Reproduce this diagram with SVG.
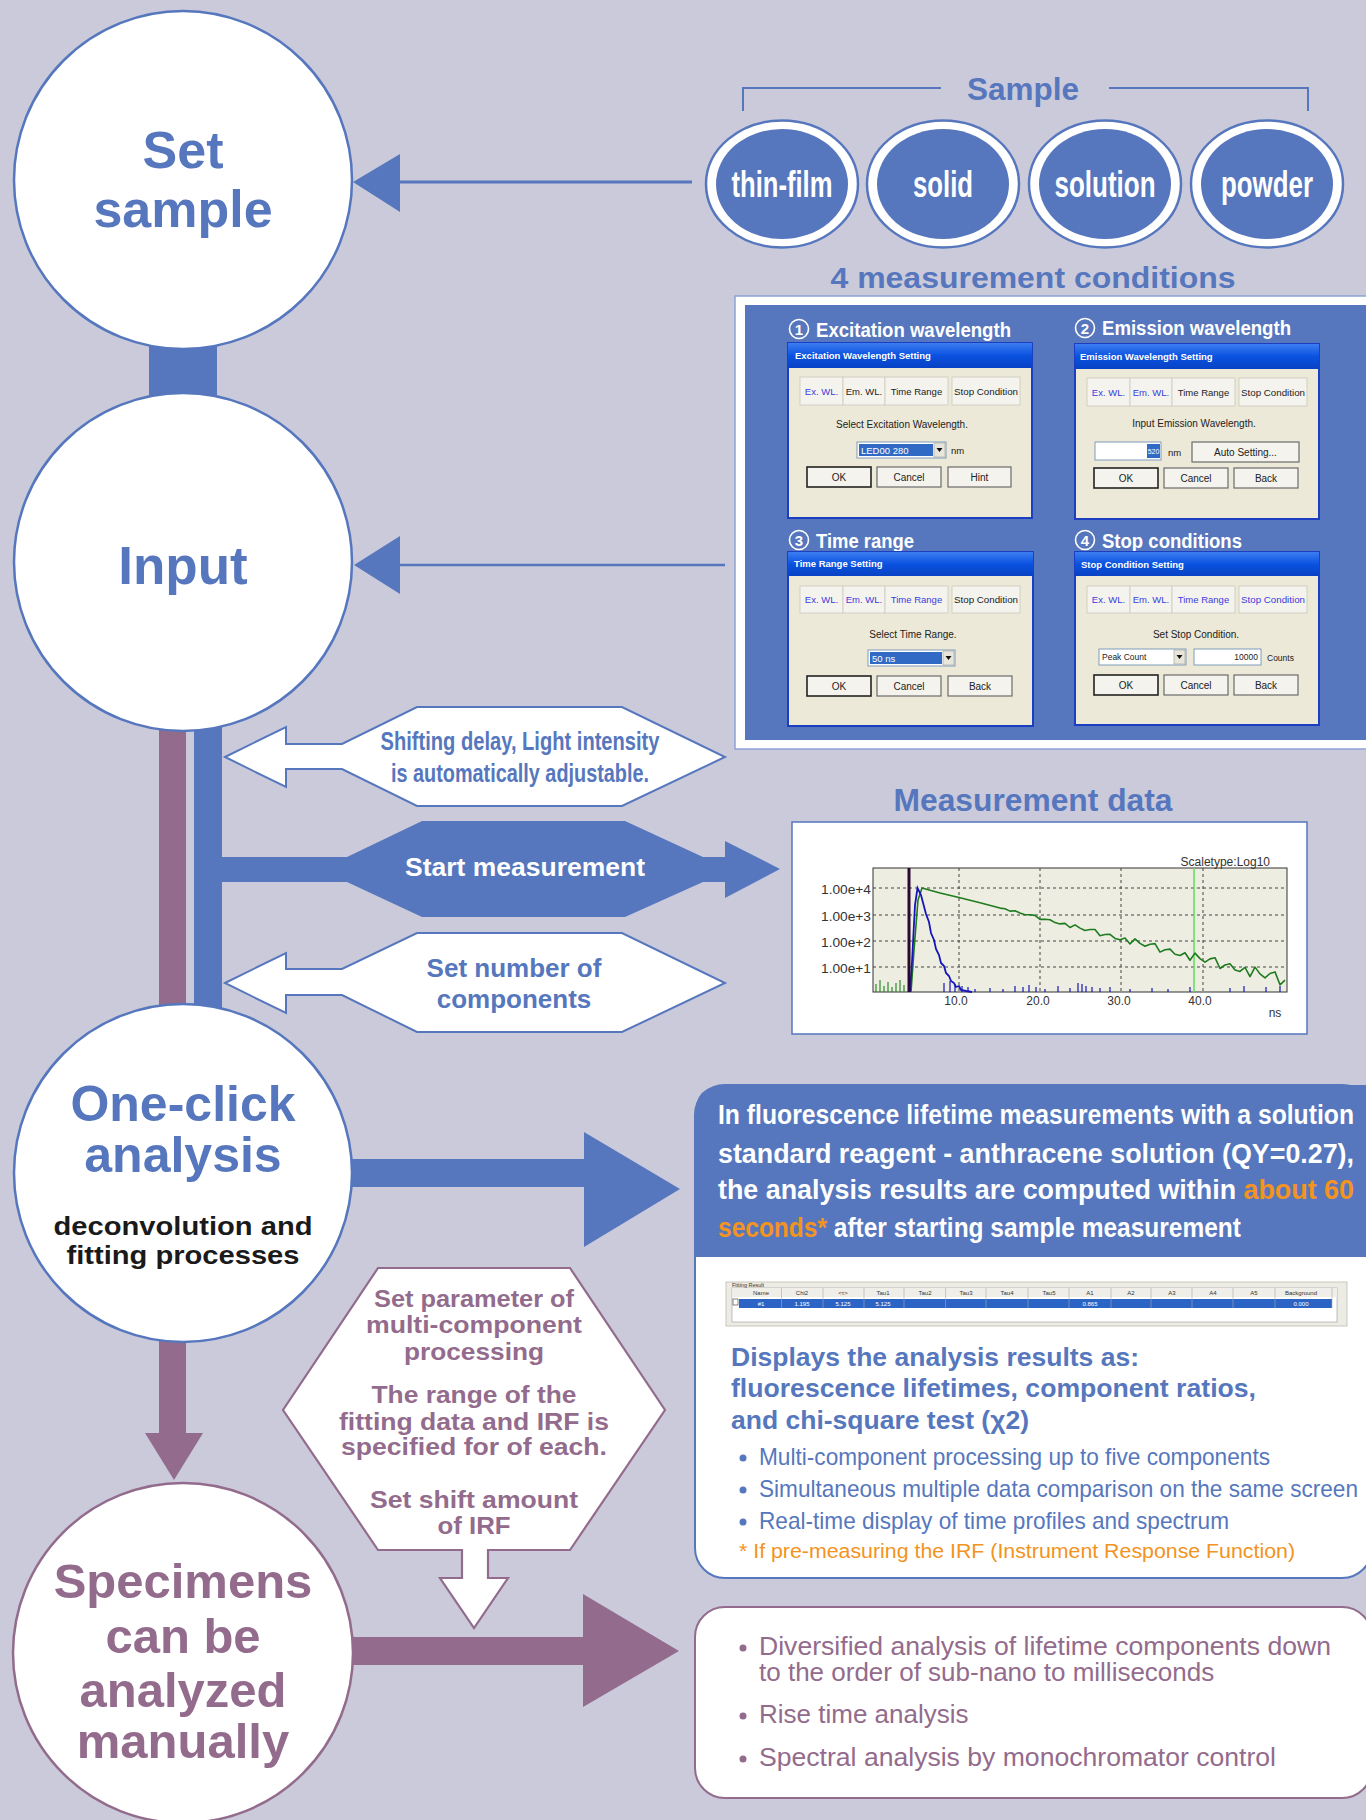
<svg xmlns="http://www.w3.org/2000/svg" width="1366" height="1820" viewBox="0 0 1366 1820">
<style>
text{font-family:"Liberation Sans",Arial,sans-serif}
.b{font-weight:bold}
.blue{fill:#5677BD}
.pur{fill:#936B8C}
.wh{fill:#ffffff}
.org{fill:#F39321}
.circB{fill:#ffffff;stroke:#5677BD;stroke-width:2.5}
.circP{fill:#ffffff;stroke:#936B8C;stroke-width:2.5}
.big{font-size:52px;font-weight:bold;text-anchor:middle}
.dlg{fill:#ECE9D8;stroke:#1B3FC0;stroke-width:2}
.dt{font-size:9.5px;font-weight:bold;fill:#ffffff}
.tab{fill:#F4F3EE;stroke:#D3D0C2;stroke-width:1}
.tt{font-size:9.5px;text-anchor:middle;fill:#222}
.tb{font-size:9.5px;text-anchor:middle;fill:#3B3BDB}
.lbl{font-size:10px;text-anchor:middle;fill:#222}
.btn{fill:#F4F3EE;stroke:#6B6B6B;stroke-width:1.2}
.ax{font-size:12px;fill:#333}
.tbl{font-size:6px;fill:#333;text-anchor:middle}
</style>
<defs>
<linearGradient id="xp" x1="0" y1="0" x2="0" y2="1">
<stop offset="0" stop-color="#3D7DF2"/>
<stop offset="0.5" stop-color="#0A52E0"/>
<stop offset="1" stop-color="#0842C4"/>
</linearGradient>
</defs>
<rect x="0" y="0" width="1366" height="1820" fill="#CACADB"/>

<g id="connectors">
  <rect x="149" y="330" width="68" height="75" fill="#5677BD"/>
  <rect x="159" y="700" width="27" height="320" fill="#936B8C"/>
  <rect x="194" y="700" width="28" height="320" fill="#5677BD"/>
  <rect x="159" y="1320" width="27" height="120" fill="#936B8C"/>
  <polygon points="145,1433 203,1433 174,1480" fill="#936B8C"/>
  <line x1="398" y1="182" x2="692" y2="182" stroke="#5677BD" stroke-width="3"/>
  <polygon points="353,182 400,154 400,212" fill="#5677BD"/>
  <line x1="398" y1="565" x2="725" y2="565" stroke="#5677BD" stroke-width="2.5"/>
  <polygon points="354,565 400,536 400,594" fill="#5677BD"/>
  <polygon points="340,1159 584,1159 584,1132 680,1189 584,1247 584,1187 340,1187" fill="#5677BD"/>
  <polygon points="340,1637 583,1637 583,1594 679,1651 583,1707 583,1665 340,1665" fill="#936B8C"/>
</g>

<g id="set-sample">
  <circle cx="183" cy="180" r="169" class="circB"/>
  <text x="183" y="168" class="big blue">Set</text>
  <text x="183" y="227" class="big blue">sample</text>
</g>

<g id="input">
  <circle cx="183" cy="562" r="169" class="circB"/>
  <text x="183" y="584" class="big blue" style="font-size:53px">Input</text>
</g>

<g id="sample-group">
  <polyline points="743,111 743,88 941,88" fill="none" stroke="#5677BD" stroke-width="2"/>
  <polyline points="1109,88 1308,88 1308,111" fill="none" stroke="#5677BD" stroke-width="2"/>
  <text x="1023" y="100" class="b blue" style="font-size:31px" text-anchor="middle" textLength="112" lengthAdjust="spacingAndGlyphs">Sample</text>
</g>
<g id="thin-film">
  <ellipse cx="782" cy="184" rx="76" ry="63.5" fill="#fff" stroke="#5677BD" stroke-width="2.5"/>
  <ellipse cx="782" cy="184" rx="66" ry="55" fill="#5677BD"/>
  <text x="782" y="197" class="b wh" style="font-size:37px" text-anchor="middle" textLength="101" lengthAdjust="spacingAndGlyphs">thin-film</text>
</g>
<g id="solid">
  <ellipse cx="943" cy="184" rx="76" ry="63.5" fill="#fff" stroke="#5677BD" stroke-width="2.5"/>
  <ellipse cx="943" cy="184" rx="66" ry="55" fill="#5677BD"/>
  <text x="943" y="197" class="b wh" style="font-size:37px" text-anchor="middle" textLength="60" lengthAdjust="spacingAndGlyphs">solid</text>
</g>
<g id="solution">
  <ellipse cx="1105" cy="184" rx="76" ry="63.5" fill="#fff" stroke="#5677BD" stroke-width="2.5"/>
  <ellipse cx="1105" cy="184" rx="66" ry="55" fill="#5677BD"/>
  <text x="1105" y="197" class="b wh" style="font-size:37px" text-anchor="middle" textLength="101" lengthAdjust="spacingAndGlyphs">solution</text>
</g>
<g id="powder">
  <ellipse cx="1267" cy="184" rx="76" ry="63.5" fill="#fff" stroke="#5677BD" stroke-width="2.5"/>
  <ellipse cx="1267" cy="184" rx="66" ry="55" fill="#5677BD"/>
  <text x="1267" y="197" class="b wh" style="font-size:37px" text-anchor="middle" textLength="92" lengthAdjust="spacingAndGlyphs">powder</text>
</g>

<g id="measurement-conditions">
  <text x="1033" y="288" class="b blue" style="font-size:29px" text-anchor="middle" textLength="405" lengthAdjust="spacingAndGlyphs">4 measurement conditions</text>
  <rect x="735" y="296" width="640" height="453" fill="#fff" stroke="#8FA3D6" stroke-width="1.5"/>
  <rect x="745" y="305" width="630" height="435" fill="#5677BD"/>
  <circle cx="799" cy="329" r="9.5" fill="none" stroke="#fff" stroke-width="1.6"/>
  <text x="799" y="335" class="b wh" style="font-size:15px" text-anchor="middle">1</text>
  <text x="816" y="337" class="b wh" style="font-size:20px" textLength="195" lengthAdjust="spacingAndGlyphs">Excitation wavelength</text>
  <circle cx="1085" cy="328" r="9.5" fill="none" stroke="#fff" stroke-width="1.6"/>
  <text x="1085" y="334" class="b wh" style="font-size:15px" text-anchor="middle">2</text>
  <text x="1102" y="335" class="b wh" style="font-size:20px" textLength="189" lengthAdjust="spacingAndGlyphs">Emission wavelength</text>
  <circle cx="799" cy="540" r="9.5" fill="none" stroke="#fff" stroke-width="1.6"/>
  <text x="799" y="546" class="b wh" style="font-size:15px" text-anchor="middle">3</text>
  <text x="816" y="548" class="b wh" style="font-size:20px" textLength="98" lengthAdjust="spacingAndGlyphs">Time range</text>
  <circle cx="1085" cy="540" r="9.5" fill="none" stroke="#fff" stroke-width="1.6"/>
  <text x="1085" y="546" class="b wh" style="font-size:15px" text-anchor="middle">4</text>
  <text x="1102" y="548" class="b wh" style="font-size:20px" textLength="140" lengthAdjust="spacingAndGlyphs">Stop conditions</text>

  <g transform="translate(788,343)">
    <rect width="244" height="175" class="dlg"/>
    <rect width="244" height="25" fill="url(#xp)"/>
    <text x="7" y="16" class="dt">Excitation  Wavelength  Setting</text>
    <rect x="12" y="34" width="43" height="28" class="tab"/><rect x="55" y="34" width="42" height="28" class="tab"/><rect x="97" y="34" width="63" height="28" class="tab"/><rect x="164" y="34" width="68" height="28" class="tab"/>
    <text x="33.5" y="52" class="tb">Ex. WL.</text><text x="76" y="52" class="tt">Em. WL.</text><text x="128.5" y="52" class="tt">Time Range</text><text x="198" y="52" class="tt" textLength="64" lengthAdjust="spacingAndGlyphs">Stop Condition</text>
    <text x="114" y="85" class="lbl">Select  Excitation  Wavelength.</text>
    <rect x="69" y="99" width="89" height="16" fill="#fff" stroke="#7F9DB9"/>
    <rect x="71" y="101" width="74" height="12" fill="#316AC5"/>
    <text x="73" y="111" style="font-size:9.5px" fill="#fff">LED00  280</text>
    <rect x="146" y="100" width="11" height="14" fill="#E8E6DA" stroke="#999" stroke-width="0.6"/>
    <polygon points="148.5,105 154.5,105 151.5,109" fill="#111"/>
    <text x="163" y="111" style="font-size:9.5px" fill="#222">nm</text>
    <rect x="19" y="124" width="64" height="20" class="btn" style="stroke:#222;stroke-width:1.6"/><rect x="89" y="124" width="64" height="20" class="btn"/><rect x="160" y="124" width="63" height="20" class="btn"/>
    <text x="51" y="138" class="lbl">OK</text><text x="121" y="138" class="lbl">Cancel</text><text x="191.5" y="138" class="lbl">Hint</text>
  </g>
  <g transform="translate(1075,344)">
    <rect width="244" height="175" class="dlg"/>
    <rect width="244" height="25" fill="url(#xp)"/>
    <text x="5" y="16" class="dt">Emission  Wavelength  Setting</text>
    <rect x="12" y="34" width="43" height="28" class="tab"/><rect x="55" y="34" width="42" height="28" class="tab"/><rect x="97" y="34" width="63" height="28" class="tab"/><rect x="164" y="34" width="68" height="28" class="tab"/>
    <text x="33.5" y="52" class="tb">Ex. WL.</text><text x="76" y="52" class="tb">Em. WL.</text><text x="128.5" y="52" class="tt">Time Range</text><text x="198" y="52" class="tt" textLength="64" lengthAdjust="spacingAndGlyphs">Stop Condition</text>
    <text x="119" y="83" class="lbl">Input Emission Wavelength.</text>
    <rect x="20" y="98" width="66" height="18" fill="#fff" stroke="#7F9DB9"/>
    <rect x="72" y="100" width="13" height="14" fill="#316AC5"/>
    <text x="78.5" y="110" style="font-size:7px" fill="#fff" text-anchor="middle">520</text>
    <text x="93" y="112" style="font-size:9.5px" fill="#222">nm</text>
    <rect x="117" y="98" width="107" height="20" class="btn"/>
    <text x="170.5" y="112" class="lbl">Auto Setting...</text>
    <rect x="19" y="124" width="64" height="20" class="btn" style="stroke:#222;stroke-width:1.6"/><rect x="89" y="124" width="64" height="20" class="btn"/><rect x="159" y="124" width="64" height="20" class="btn"/>
    <text x="51" y="138" class="lbl">OK</text><text x="121" y="138" class="lbl">Cancel</text><text x="191" y="138" class="lbl">Back</text>
  </g>
  <g transform="translate(788,552)">
    <rect width="245" height="174" class="dlg"/>
    <rect width="245" height="24" fill="url(#xp)"/>
    <text x="6" y="15" class="dt">Time  Range  Setting</text>
    <rect x="12" y="34" width="43" height="27" class="tab"/><rect x="55" y="34" width="42" height="27" class="tab"/><rect x="97" y="34" width="63" height="27" class="tab"/><rect x="164" y="34" width="68" height="27" class="tab"/>
    <text x="33.5" y="51" class="tb">Ex. WL.</text><text x="76" y="51" class="tb">Em. WL.</text><text x="128.5" y="51" class="tb">Time Range</text><text x="198" y="51" class="tt" textLength="64" lengthAdjust="spacingAndGlyphs">Stop Condition</text>
    <text x="125" y="86" class="lbl">Select Time Range.</text>
    <rect x="80" y="98" width="87" height="16" fill="#fff" stroke="#7F9DB9"/>
    <rect x="82" y="100" width="72" height="12" fill="#316AC5"/>
    <text x="84" y="110" style="font-size:9.5px" fill="#fff">50 ns</text>
    <rect x="155" y="99" width="11" height="14" fill="#E8E6DA" stroke="#999" stroke-width="0.6"/>
    <polygon points="157.5,104 163.5,104 160.5,108" fill="#111"/>
    <rect x="19" y="124" width="64" height="20" class="btn" style="stroke:#222;stroke-width:1.6"/><rect x="89" y="124" width="64" height="20" class="btn"/><rect x="160" y="124" width="64" height="20" class="btn"/>
    <text x="51" y="138" class="lbl">OK</text><text x="121" y="138" class="lbl">Cancel</text><text x="192" y="138" class="lbl">Back</text>
  </g>
  <g transform="translate(1075,552)">
    <rect width="244" height="173" class="dlg"/>
    <rect width="244" height="24" fill="url(#xp)"/>
    <text x="6" y="16" class="dt">Stop  Condition  Setting</text>
    <rect x="12" y="34" width="43" height="27" class="tab"/><rect x="55" y="34" width="42" height="27" class="tab"/><rect x="97" y="34" width="63" height="27" class="tab"/><rect x="164" y="34" width="68" height="27" class="tab"/>
    <text x="33.5" y="51" class="tb">Ex. WL.</text><text x="76" y="51" class="tb">Em. WL.</text><text x="128.5" y="51" class="tb">Time Range</text><text x="198" y="51" class="tb" textLength="64" lengthAdjust="spacingAndGlyphs">Stop Condition</text>
    <text x="121" y="86" class="lbl">Set Stop Condition.</text>
    <rect x="24" y="97" width="87" height="16" fill="#fff" stroke="#7F9DB9"/>
    <text x="27" y="108" style="font-size:8.5px" fill="#222">Peak Count</text>
    <rect x="99" y="98" width="11" height="14" fill="#E8E6DA" stroke="#999" stroke-width="0.6"/>
    <polygon points="101.5,103 107.5,103 104.5,107" fill="#111"/>
    <rect x="119" y="97" width="67" height="16" fill="#fff" stroke="#7F9DB9"/>
    <text x="183" y="108" style="font-size:8.5px" fill="#222" text-anchor="end">10000</text>
    <text x="192" y="109" style="font-size:8.5px" fill="#222">Counts</text>
    <rect x="19" y="123" width="64" height="20" class="btn" style="stroke:#222;stroke-width:1.6"/><rect x="89" y="123" width="64" height="20" class="btn"/><rect x="159" y="123" width="64" height="20" class="btn"/>
    <text x="51" y="137" class="lbl">OK</text><text x="121" y="137" class="lbl">Cancel</text><text x="191" y="137" class="lbl">Back</text>
  </g>
</g>

<g id="shifting-delay">
  <path d="M225,757 L286,727 L286,744 L342,744 L417,707 L622,707 L725,757 L622,806 L417,806 L342,769 L286,769 L286,787 Z" fill="#fff" stroke="#5677BD" stroke-width="2"/>
  <text x="520" y="750" class="b blue" style="font-size:25px" text-anchor="middle" textLength="279" lengthAdjust="spacingAndGlyphs">Shifting delay, Light intensity</text>
  <text x="520" y="782" class="b blue" style="font-size:25px" text-anchor="middle" textLength="258" lengthAdjust="spacingAndGlyphs">is automatically adjustable.</text>
</g>

<g id="start-measurement">
  <path d="M222,857 L347,857 L422,821 L625,821 L703,857 L725,857 L725,841 L780,869 L725,898 L725,882 L703,882 L625,917 L422,917 L347,882 L222,882 Z" fill="#5677BD"/>
  <text x="525" y="876" class="b wh" style="font-size:25px" text-anchor="middle" textLength="240" lengthAdjust="spacingAndGlyphs">Start measurement</text>
</g>

<g id="set-number">
  <path d="M225,983 L286,953 L286,969 L342,969 L417,933 L622,933 L725,983 L622,1032 L417,1032 L342,995 L286,995 L286,1013 Z" fill="#fff" stroke="#5677BD" stroke-width="2"/>
  <text x="514" y="977" class="b blue" style="font-size:26px" text-anchor="middle">Set number of</text>
  <text x="514" y="1008" class="b blue" style="font-size:26px" text-anchor="middle">components</text>
</g>

<g id="measurement-data">
  <text x="1033" y="811" class="b blue" style="font-size:31px" text-anchor="middle" textLength="279" lengthAdjust="spacingAndGlyphs">Measurement data</text>
  <rect x="792" y="822" width="515" height="212" fill="#fff" stroke="#5677BD" stroke-width="1.5"/>
  <rect x="873" y="868" width="414" height="124" fill="#EEEDE2" stroke="#333" stroke-width="1"/>
  <g stroke="#444" stroke-width="1" stroke-dasharray="3,3">
    <line x1="873" y1="888" x2="1287" y2="888"/><line x1="873" y1="915" x2="1287" y2="915"/><line x1="873" y1="941" x2="1287" y2="941"/><line x1="873" y1="967" x2="1287" y2="967"/>
    <line x1="959" y1="868" x2="959" y2="992"/><line x1="1040" y1="868" x2="1040" y2="992"/><line x1="1121" y1="868" x2="1121" y2="992"/><line x1="1203" y1="868" x2="1203" y2="992"/>
  </g>
  <line x1="1194" y1="868" x2="1194" y2="992" stroke="#5FDC5F" stroke-width="1.5"/>
  <path d="M876,992v-8M880,992v-12M884,992v-6M888,992v-10M892,992v-5M896,992v-9M900,992v-12M904,992v-7" stroke="#2E8B2E" stroke-width="1.2"/>
  <polyline fill="none" stroke="#1E7B1E" stroke-width="1.6" stroke-linejoin="round" points="911,992 914,950 918,900 922,888 940,893 960,897.7 980,902.7 1000,908.1 1005,908.7 1010,911.1 1015,910.7 1020,912.9 1025,914.7 1030,914.8 1035,915.4 1040,919.4 1045,919.2 1050,919.7 1055,922.6 1060,923.9 1065,923.4 1070,927.5 1075,924.9 1080,928.1 1085,930.5 1090,929.5 1095,929.5 1100,935.7 1105,934.5 1110,934.4 1115,938.4 1120,939.7 1125,938.1 1130,943.9 1135,938.9 1140,943.4 1145,946.3 1150,944.2 1155,943.6 1160,952.1 1165,949.7 1170,949.1 1175,954.3 1180,955.5 1185,952.7 1190,960.3 1195,953.1 1200,958.6 1205,962.2 1210,958.9 1215,957.7 1220,968.5 1225,965 1230,963.7 1235,970 1240,971.4 1245,967.4 1250,976.7 1255,967.1 1260,973.9 1265,977.9 1270,973.5 1275,971.9 1280,984.8 1285,980.2"/>
  <polyline fill="none" stroke="#1616B8" stroke-width="1.8" points="910,992 912,962 915,905 917.5,888 921,895 926,914 929,922 931,933 934,940 936,949 939,955 941,963 944,966 946,973 949,976 951,981 954,983 956,987 959,986 961,990 966,991 972,992"/>
  <path d="M944,992v-9M950,992v-11M955,992v-8M962,992v-6M968,992v-5M975,992v-3M990,992v-4M1003,992v-3M1015,992v-6M1023,992v-5M1029,992v-7M1036,992v-5M1045,992v-3M1058,992v-6M1070,992v-4M1078,992v-9M1082,992v-8M1086,992v-6M1092,992v-5M1100,992v-4M1110,992v-5M1130,992v-3M1152,992v-4M1168,992v-3M1190,992v-5M1230,992v-4M1244,992v-6M1266,992v-5M1280,992v-6" stroke="#1616B8" stroke-width="1.2"/>
  <line x1="909" y1="868" x2="909" y2="992" stroke="#2A0A30" stroke-width="3"/>
  <text x="871" y="894" class="ax" text-anchor="end" textLength="50" lengthAdjust="spacingAndGlyphs">1.00e+4</text>
  <text x="871" y="921" class="ax" text-anchor="end" textLength="50" lengthAdjust="spacingAndGlyphs">1.00e+3</text>
  <text x="871" y="947" class="ax" text-anchor="end" textLength="50" lengthAdjust="spacingAndGlyphs">1.00e+2</text>
  <text x="871" y="973" class="ax" text-anchor="end" textLength="50" lengthAdjust="spacingAndGlyphs">1.00e+1</text>
  <text x="956" y="1005" class="ax" text-anchor="middle">10.0</text>
  <text x="1038" y="1005" class="ax" text-anchor="middle">20.0</text>
  <text x="1119" y="1005" class="ax" text-anchor="middle">30.0</text>
  <text x="1200" y="1005" class="ax" text-anchor="middle">40.0</text>
  <text x="1275" y="1017" class="ax" text-anchor="middle">ns</text>
  <text x="1270" y="866" class="ax" text-anchor="end">Scaletype:Log10</text>
</g>

<g id="one-click">
  <circle cx="183" cy="1173" r="169" class="circB"/>
  <text x="183" y="1121" class="b blue" style="font-size:50px" text-anchor="middle">One-click</text>
  <text x="183" y="1172" class="b blue" style="font-size:50px" text-anchor="middle">analysis</text>
  <text x="183" y="1235" class="b" style="font-size:25px;fill:#1a1a1a" text-anchor="middle" textLength="259" lengthAdjust="spacingAndGlyphs">deconvolution and</text>
  <text x="183" y="1264" class="b" style="font-size:25px;fill:#1a1a1a" text-anchor="middle" textLength="233" lengthAdjust="spacingAndGlyphs">fitting processes</text>
</g>

<g id="result-box">
  <rect x="695" y="1085" width="677" height="493" rx="30" fill="#fff"/>
  <path d="M695,1257 L695,1115 Q695,1085 725,1085 L1372,1085 L1372,1257 Z" fill="#5677BD"/>
  <rect x="695" y="1085" width="677" height="493" rx="30" fill="none" stroke="#5677BD" stroke-width="2"/>
  <text x="718" y="1124" class="b wh" style="font-size:27px" textLength="636" lengthAdjust="spacingAndGlyphs">In fluorescence lifetime measurements with a solution</text>
  <text x="718" y="1163" class="b wh" style="font-size:27px" textLength="636" lengthAdjust="spacingAndGlyphs">standard  reagent  -  anthracene  solution  (QY=0.27),</text>
  <text x="718" y="1199" class="b wh" style="font-size:27px" textLength="636" lengthAdjust="spacingAndGlyphs">the  analysis  results  are  computed  within  <tspan class="org">about  60</tspan></text>
  <text x="718" y="1237" class="b wh" style="font-size:27px" textLength="523" lengthAdjust="spacingAndGlyphs"><tspan class="org">seconds*</tspan> after starting sample measurement</text>

  <rect x="726" y="1282" width="621" height="44" fill="#ECEBE4" stroke="#C9C7BA" stroke-width="1"/>
  <text x="732" y="1287" style="font-size:5.5px;fill:#333">Fitting Result</text>
  <rect x="732" y="1288" width="605" height="34" fill="#fff" stroke="#9A9A9A" stroke-width="0.6"/>
  <rect x="732" y="1288" width="605" height="9" fill="#EFEEE8"/>
  <rect x="739" y="1299" width="593" height="9" fill="#2C64C6"/>
  <rect x="733" y="1299" width="5" height="6" fill="#fff" stroke="#333" stroke-width="0.6"/>
  <g stroke="#A9A9A9" stroke-width="0.6">
    <line x1="781.5" y1="1288" x2="781.5" y2="1308"/><line x1="823" y1="1288" x2="823" y2="1308"/><line x1="864" y1="1288" x2="864" y2="1308"/><line x1="904" y1="1288" x2="904" y2="1308"/><line x1="945.6" y1="1288" x2="945.6" y2="1308"/><line x1="986" y1="1288" x2="986" y2="1308"/><line x1="1028" y1="1288" x2="1028" y2="1308"/><line x1="1069" y1="1288" x2="1069" y2="1308"/><line x1="1111" y1="1288" x2="1111" y2="1308"/><line x1="1151" y1="1288" x2="1151" y2="1308"/><line x1="1192" y1="1288" x2="1192" y2="1308"/><line x1="1233" y1="1288" x2="1233" y2="1308"/><line x1="1275" y1="1288" x2="1275" y2="1308"/><line x1="1332" y1="1288" x2="1332" y2="1308"/>
  </g>
  <text y="1295" class="tbl"><tspan x="761">Name</tspan><tspan x="802">Chi2</tspan><tspan x="843">&lt;τ&gt;</tspan><tspan x="883">Tau1</tspan><tspan x="925">Tau2</tspan><tspan x="966">Tau3</tspan><tspan x="1007">Tau4</tspan><tspan x="1049">Tau5</tspan><tspan x="1090">A1</tspan><tspan x="1131">A2</tspan><tspan x="1172">A3</tspan><tspan x="1213">A4</tspan><tspan x="1254">A5</tspan><tspan x="1301">Background</tspan></text>
  <text y="1306" class="tbl" style="fill:#fff"><tspan x="761">#1</tspan><tspan x="802">1.195</tspan><tspan x="843">5.125</tspan><tspan x="883">5.125</tspan><tspan x="1090">0.865</tspan><tspan x="1301">0.000</tspan></text>

  <text x="731" y="1366" class="b blue" style="font-size:25px" textLength="408" lengthAdjust="spacingAndGlyphs">Displays the analysis results as:</text>
  <text x="731" y="1397" class="b blue" style="font-size:25px" textLength="525" lengthAdjust="spacingAndGlyphs">fluorescence lifetimes, component ratios,</text>
  <text x="731" y="1429" class="b blue" style="font-size:25px" textLength="298" lengthAdjust="spacingAndGlyphs">and chi-square test (χ2)</text>
  <circle cx="743" cy="1458" r="3.5" fill="#5677BD"/>
  <text x="759" y="1465" class="blue" style="font-size:24px" textLength="511" lengthAdjust="spacingAndGlyphs">Multi-component processing up to five components</text>
  <circle cx="743" cy="1490" r="3.5" fill="#5677BD"/>
  <text x="759" y="1497" class="blue" style="font-size:24px" textLength="599" lengthAdjust="spacingAndGlyphs">Simultaneous multiple data comparison on the same screen</text>
  <circle cx="743" cy="1522" r="3.5" fill="#5677BD"/>
  <text x="759" y="1529" class="blue" style="font-size:24px" textLength="470" lengthAdjust="spacingAndGlyphs">Real-time display of time profiles and spectrum</text>
  <text x="739" y="1558" class="org" style="font-size:20px" textLength="556" lengthAdjust="spacingAndGlyphs">* If pre-measuring the IRF (Instrument Response Function)</text>
</g>

<g id="set-parameter">
  <path d="M378,1268 L570,1268 L665,1410 L570,1550 L488,1550 L488,1578 L508,1578 L474,1628 L440,1578 L462,1578 L462,1550 L378,1550 L283,1410 Z" fill="#fff" stroke="#936B8C" stroke-width="2.2"/>
  <g class="b pur" style="font-size:24px" text-anchor="middle">
    <text x="474" y="1307" textLength="200" lengthAdjust="spacingAndGlyphs">Set parameter of</text>
    <text x="474" y="1333" textLength="216" lengthAdjust="spacingAndGlyphs">multi-component</text>
    <text x="474" y="1360" textLength="140" lengthAdjust="spacingAndGlyphs">processing</text>
    <text x="474" y="1403" textLength="205" lengthAdjust="spacingAndGlyphs">The range of the</text>
    <text x="474" y="1430" textLength="270" lengthAdjust="spacingAndGlyphs">fitting data and IRF is</text>
    <text x="474" y="1455" textLength="266" lengthAdjust="spacingAndGlyphs">specified for of each.</text>
    <text x="474" y="1508" textLength="208" lengthAdjust="spacingAndGlyphs">Set shift amount</text>
    <text x="474" y="1534" textLength="73" lengthAdjust="spacingAndGlyphs">of IRF</text>
  </g>
</g>

<g id="specimens">
  <circle cx="183" cy="1653" r="170" class="circP"/>
  <g class="b pur" style="font-size:49px" text-anchor="middle">
    <text x="183" y="1598">Specimens</text>
    <text x="183" y="1653">can be</text>
    <text x="183" y="1707">analyzed</text>
    <text x="183" y="1758">manually</text>
  </g>
</g>

<g id="manual-box">
  <rect x="695" y="1607" width="677" height="191" rx="30" fill="#fff" stroke="#936B8C" stroke-width="2"/>
  <circle cx="743" cy="1648" r="3.5" fill="#936B8C"/>
  <text x="759" y="1655" class="pur" style="font-size:26px" textLength="572" lengthAdjust="spacingAndGlyphs">Diversified analysis of lifetime components down</text>
  <text x="759" y="1681" class="pur" style="font-size:26px">to the order of sub-nano to milliseconds</text>
  <circle cx="743" cy="1716" r="3.5" fill="#936B8C"/>
  <text x="759" y="1723" class="pur" style="font-size:26px">Rise time analysis</text>
  <circle cx="743" cy="1759" r="3.5" fill="#936B8C"/>
  <text x="759" y="1766" class="pur" style="font-size:26px" textLength="517" lengthAdjust="spacingAndGlyphs">Spectral analysis by monochromator control</text>
</g>
</svg>
